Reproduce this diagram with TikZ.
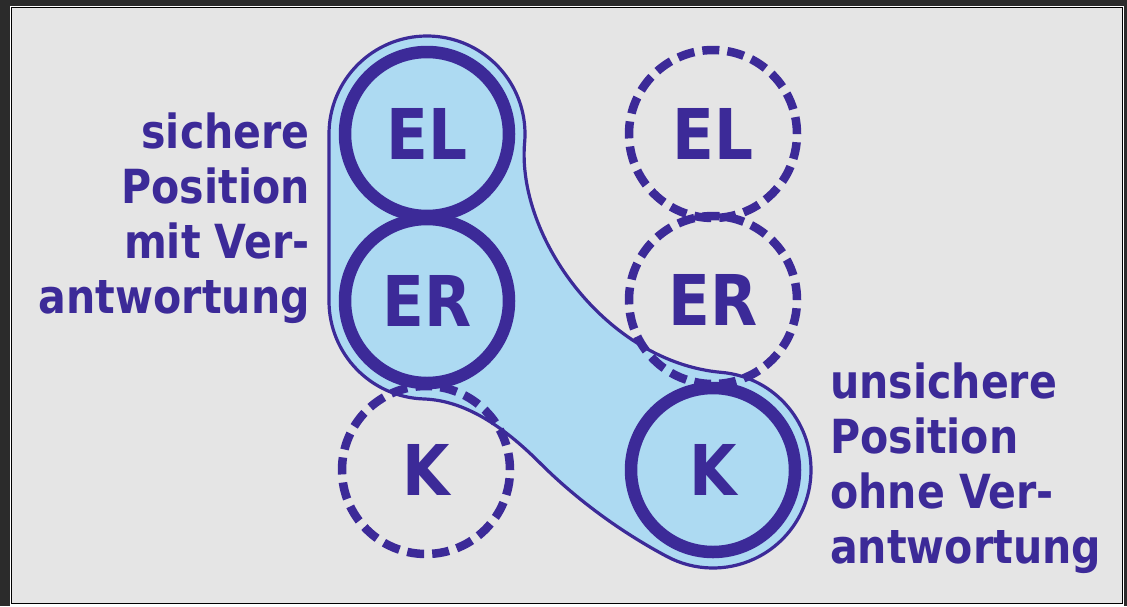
\documentclass[tikz,border=0pt]{standalone}
\usepackage{fontspec}
\usetikzlibrary{calc}
\newfontfamily\lblfont[FakeStretch=0.875]{DejaVu Sans}
\definecolor{ink}{RGB}{60,42,152}
\definecolor{pale}{RGB}{173,218,242}
\definecolor{panel}{RGB}{229,229,229}
\definecolor{surround}{RGB}{43,43,43}

\begin{document}
\begin{tikzpicture}[x=1pt,y=-1pt,
  ring/.style={circle, draw=ink, line width=12.5pt, minimum size=164pt, inner sep=0pt,
    text=ink, font=\lblfont\bfseries\fontsize{70}{70}\selectfont},
  ghost/.style={circle, draw=ink, line width=8.5pt, dash pattern=on 17pt off 8.13pt,
    minimum size=168pt, inner sep=0pt,
    text=ink, font=\lblfont\bfseries\fontsize{70}{70}\selectfont},
  caption/.style={text=ink, inner sep=0pt, font=\lblfont\bfseries\fontsize{47}{55}\selectfont},
  hull/.style={fill=pale, draw=ink, line width=3.2pt}]

\useasboundingbox (0,0) rectangle (1127,606);

% frame and panel
\fill[surround] (0,0) rectangle (1127,606);
\fill[white] (10,6) rectangle (1124,605.5);
\fill[black] (11.3,7.3) rectangle (1122.7,604);
\fill[panel] (12.3,8.3) rectangle (1121.5,602.8);

% circle centres
\coordinate (cEL) at (427,134);
\coordinate (cER) at (427,301);
\coordinate (cK)  at (713,470);
\coordinate (dEL) at (713,134);
\coordinate (dER) at (713,300);
\coordinate (dK)  at (426,470);

% group hull around EL, ER (left) and K (right)
\path[hull] ($(cEL)+(180:98)$)
  arc[start angle=180, end angle=365, radius=98]
  .. controls +(95:95) and +(185:115) .. ($(cK)+(275:98)$)
  arc[start angle=275, end angle=478, radius=98]
  .. controls +(208:52) and +(45:52) .. (540,463)
  .. controls +(225:45) and +(2:45) .. ($(cER)+(92:98)$)
  arc[start angle=92, end angle=180, radius=98]
  -- cycle;

% unoccupied positions
\node[ghost] (gEL) at (dEL) {EL};
\node[ghost] (gER) at (dER) {ER};
\node[ghost] (gK)  at (dK)  {K};

% occupied positions
\node[ring] (rEL) at (cEL) {EL};
\node[ring] (rER) at (cER) {ER};
\node[ring] (rK)  at (cK)  {K};

% captions (anchored at the baseline of their last line)
\node[caption, align=right, anchor=base east] (safe) at (310,313)
  {sichere\\Position\\mit Ver-\\antwortung};
\node[caption, align=left, anchor=base west] (unsafe) at (830,563)
  {unsichere\\Position\\ohne Ver-\\antwortung};
\end{tikzpicture}
\end{document}
